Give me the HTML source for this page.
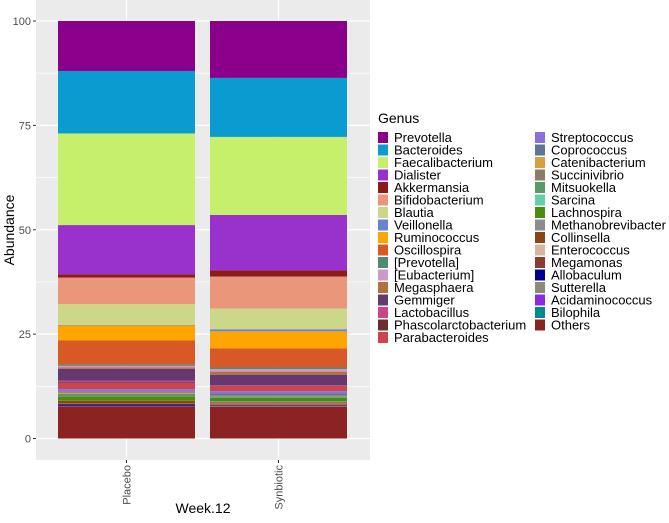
<!DOCTYPE html>
<html><head><meta charset="utf-8"><style>
body{margin:0;background:#fff;font-family:"Liberation Sans",sans-serif}
svg text{font-family:"Liberation Sans",sans-serif}
</style></head><body>
<svg id="chart" width="669" height="518"></svg>
<script>
const genera=["Prevotella","Bacteroides","Faecalibacterium","Dialister","Akkermansia","Bifidobacterium","Blautia","Veillonella","Ruminococcus","Oscillospira","[Prevotella]","[Eubacterium]","Megasphaera","Gemmiger","Lactobacillus","Phascolarctobacterium","Parabacteroides","Streptococcus","Coprococcus","Catenibacterium","Succinivibrio","Mitsuokella","Sarcina","Lachnospira","Methanobrevibacter","Collinsella","Enterococcus","Megamonas","Allobaculum","Sutterella","Acidaminococcus","Bilophila","Others"];
const colors=["#8B008B","#0A9BD0","#C6EF6C","#9932CC","#8B1A1A","#E9967A","#CDD78A","#6A82D0","#FFA500","#D95926","#4E8B77","#CC99CC","#B07040","#663870","#CC4488","#6B2E2E","#CD4450","#8A70D8","#5E7598","#D4A040","#8B7B68","#5A9A6A","#66CDAA","#4A8C10","#8A8E8E","#8B4513","#D2B8A0","#8B3A30","#00008B","#8A8A78","#8A2BE2","#008B8B","#8B2323"];
const groups=["Placebo","Synbiotic"];
const placebo=[12,15,22,11.8,0.8,6.4,5,0.1,3.6,5.8,0.3,0.4,0.3,2.9,0.4,0.2,1.4,0.6,0.25,0.3,0.25,0.25,0.05,1.1,0.05,0.6,0.05,0.2,0.3,0.05,0.05,0.05,7.7];
const synbiotic=[13.7,14.2,18.8,13.3,1.5,7.7,5,0.5,4.1,4.6,0.4,0.6,0.8,2.5,0.05,0.05,1.3,0.5,0.6,0.1,0.1,0.3,0.05,0.8,0.3,0.25,0.15,0.45,0.05,0.05,0.05,0.05,7.6];
const yTicks=[0,25,50,75,100];
const NS="http://www.w3.org/2000/svg";
const svg=document.getElementById("chart");
function mk(t,a,p){const e=document.createElementNS(NS,t);for(const k in a)e.setAttribute(k,a[k]);(p||svg).appendChild(e);return e;}
const PL=36,PR=370,PT=0,PB=460;
const y=v=>438.5-v*4.175;
const step=152;
const x=i=>126.5+i*step;
const bw=137;
const panel=mk("rect",{x:PL,y:PT,width:PR-PL,height:PB-PT,fill:"#EBEBEB"});


for(let i=0;i<yTicks.length-1;i++){const m=(yTicks[i]+yTicks[i+1])/2;mk("line",{x1:PL,x2:PR,y1:y(m),y2:y(m),stroke:"#fff","stroke-width":0.6});}
yTicks.forEach(t=>{
  mk("line",{x1:PL,x2:PR,y1:y(t),y2:y(t),stroke:"#fff","stroke-width":1.2});
  mk("line",{x1:PL-3,x2:PL,y1:y(t),y2:y(t),stroke:"#333","stroke-width":1});
  const tx=mk("text",{x:PL-5,y:y(t)+4,"text-anchor":"end","font-size":11,fill:"#4D4D4D"});tx.textContent=t;
  
  
});
const series=[placebo,synbiotic];
groups.forEach((g,i)=>{
  mk("line",{x1:x(i),x2:x(i),y1:PT,y2:PB,stroke:"#fff","stroke-width":1.2});
  mk("line",{x1:x(i),x2:x(i),y1:PB,y2:PB+3,stroke:"#333"});
  const vals=series[i];const tot=vals.reduce((a,b)=>a+b,0);
  let cum=0;
  for(let k=vals.length-1;k>=0;k--){
    const v=vals[k]/tot*100;
    const r=mk("rect",{x:x(i)-bw/2,y:y(cum+v),width:bw,height:Math.max(0,y(cum)-y(cum+v)),fill:colors[k]});
    
    
    cum+=v;
  }
  const lb=mk("text",{x:0,y:0,"text-anchor":"end","font-size":11,fill:"#4D4D4D",transform:`translate(${x(i)+4},${PB+5}) rotate(-90)`});
  lb.textContent=g;
  
  
});
const xt=mk("text",{x:203,y:513,"text-anchor":"middle","font-size":14,fill:"#000"});xt.textContent="Week.12";


const yt=mk("text",{x:0,y:0,"text-anchor":"middle","font-size":14,fill:"#000",transform:"translate(14,230) rotate(-90)"});yt.textContent="Abundance";


const lt=mk("text",{x:378,y:123,"font-size":14,fill:"#000"});lt.textContent="Genus";


genera.forEach((n,k)=>{
  const col=k<17?0:1,row=k<17?k:k-17;
  const kx=col?535:378,ky=132+row*12.5;
  const g=mk("g",{});
  
  
  mk("rect",{x:kx,y:ky,width:10,height:11,fill:colors[k]},g);
  const t=mk("text",{x:kx+16,y:ky+10,"font-size":13,fill:"#000"},g);t.textContent=n;
});
</script>
</body></html>
